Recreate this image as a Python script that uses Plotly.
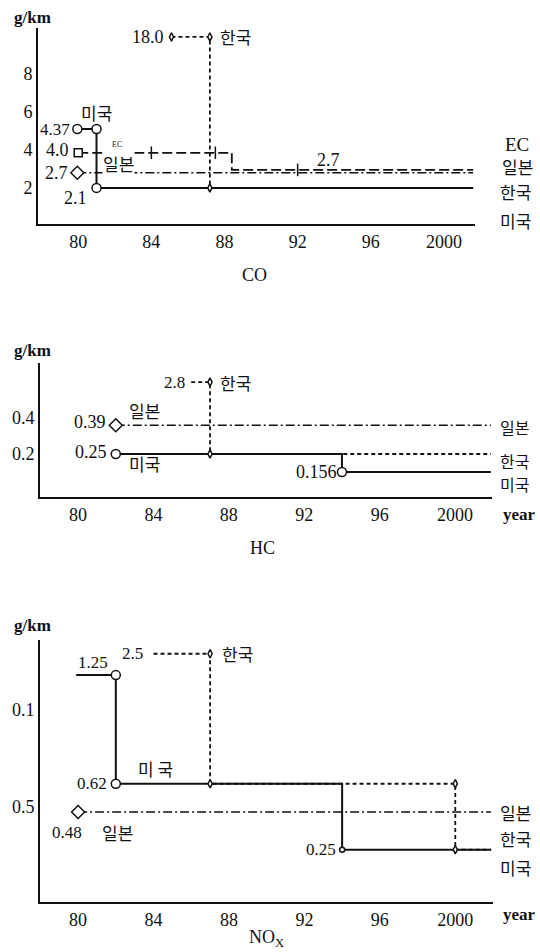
import plotly.graph_objects as go

# ================= DATA (plotted levels on each schematic axis) =================
YEARS_TICKS = [1980, 1984, 1988, 1992, 1996, 2000]
YEAR_LABELS = ["80", "84", "88", "92", "96", "2000"]

# ---- CO ----
co_us_x = [1979.95, 1981.0, 1981.0, 2001.6]
co_us_y = [5.1, 5.1, 2.0, 2.0]
co_kr_x = [1985.1, 1987.2, 1987.2, 2001.6]
co_kr_y = [9.95, 9.95, 2.0, 2.0]
co_ec_x = [1980.0, 1988.4, 1988.4, 2001.6]
co_ec_y = [3.85, 3.85, 2.95, 2.95]
co_jp_x = [1979.95, 2001.6]
co_jp_y = [2.8, 2.8]
co_ec_mark_x = [1984.0, 1987.5, 1992.0]
co_ec_mark_y = [3.85, 3.85, 2.95]
co_yticks = [2, 4, 6, 8]

# ---- HC ----
hc_us_x = [1982.0, 1994.0, 1994.0, 2001.9]
hc_us_y = [0.2, 0.2, 0.1, 0.1]
hc_kr_x = [1986.0, 1987.0, 1987.0, 2001.9]
hc_kr_y = [0.6, 0.6, 0.2, 0.2]
hc_jp_x = [1982.0, 2001.9]
hc_jp_y = [0.36, 0.36]
hc_yticks = [0.2, 0.4]
hc_yticktext = ["0.2", "0.4"]

# ---- NOx ----
nox_us_x = [1979.9, 1982.0, 1982.0, 1994.0, 1994.0, 2001.9]
nox_us_y = [1.18, 1.18, 0.62, 0.62, 0.28, 0.28]
nox_kr_x = [1984.0, 1987.0, 1987.0, 2000.0, 2000.0, 2001.9]
nox_kr_y = [1.29, 1.29, 0.62, 0.62, 0.28, 0.28]
nox_jp_x = [1980.0, 2001.9]
nox_jp_y = [0.474, 0.474]
nox_yticks = [0.5, 1.0]
nox_yticktext = ["0.5", "0.1"]

# ================= STYLE =================
INK = "#111111"
SERIF = "Liberation Serif"
KR = "Noto Sans CJK KR"
NUM = 18   # numeric label size
KRS = 17   # korean label size
DASH_KR = "4px,3px"
DASH_JP = "9px,3px,2px,3px"
DASH_EC = "10px,4px"

fig = go.Figure()


def line(x, y, dash, xa, ya, width=1.8):
    fig.add_trace(go.Scatter(x=x, y=y, mode="lines", xaxis=xa, yaxis=ya,
                             line=dict(color=INK, width=width, dash=dash),
                             hoverinfo="skip", showlegend=False))


def marks(x, y, symbol, size, xa, ya):
    fig.add_trace(go.Scatter(x=x, y=y, mode="markers", xaxis=xa, yaxis=ya,
                             marker=dict(symbol=symbol, size=size, color="white",
                                         line=dict(color=INK, width=1.5)),
                             hoverinfo="skip", showlegend=False, cliponaxis=False))


# ---- CO traces ----
line(co_jp_x, co_jp_y, DASH_JP, "x", "y", 1.6)
line(co_ec_x, co_ec_y, DASH_EC, "x", "y", 1.8)
line(co_us_x, co_us_y, "solid", "x", "y", 2.0)
line(co_kr_x, co_kr_y, DASH_KR, "x", "y", 1.8)
marks(co_us_x[:3], co_us_y[:3], "circle", 9, "x", "y")
marks(co_jp_x[:1], co_jp_y[:1], "diamond", 10, "x", "y")
marks(co_ec_x[:1], co_ec_y[:1], "square", 8, "x", "y")
marks(co_ec_mark_x, co_ec_mark_y, "line-ns", 9, "x", "y")
marks(co_kr_x[:3], co_kr_y[:3], "diamond-tall", 6, "x", "y")

# ---- HC traces ----
line(hc_jp_x, hc_jp_y, DASH_JP, "x2", "y2", 1.6)
line(hc_us_x, hc_us_y, "solid", "x2", "y2", 2.0)
line(hc_kr_x, hc_kr_y, DASH_KR, "x2", "y2", 1.8)
marks(hc_us_x[:1] + hc_us_x[2:3], hc_us_y[:1] + hc_us_y[2:3], "circle", 9, "x2", "y2")
marks(hc_jp_x[:1], hc_jp_y[:1], "diamond", 10, "x2", "y2")
marks(hc_kr_x[1:3], hc_kr_y[1:3], "diamond-tall", 6, "x2", "y2")

# ---- NOx traces ----
line(nox_jp_x, nox_jp_y, DASH_JP, "x3", "y3", 1.6)
line(nox_us_x, nox_us_y, "solid", "x3", "y3", 2.0)
line(nox_kr_x, nox_kr_y, DASH_KR, "x3", "y3", 1.8)
marks(nox_us_x[1:3], nox_us_y[1:3], "circle", 9, "x3", "y3")
marks(nox_us_x[4:5], nox_us_y[4:5], "circle", 5, "x3", "y3")
marks(nox_jp_x[:1], nox_jp_y[:1], "diamond", 10, "x3", "y3")
marks(nox_kr_x[1:5], nox_kr_y[1:5], "diamond-tall", 6, "x3", "y3")


# ================= AXES =================
def xaxis(domain, rng, anchor):
    return dict(domain=domain, range=rng, anchor=anchor, tickvals=YEARS_TICKS,
                ticktext=YEAR_LABELS, showline=True, linecolor=INK, linewidth=2,
                ticks="", showgrid=False, zeroline=False,
                tickfont=dict(family=SERIF, size=18, color=INK))


def yaxis(domain, rng, anchor, tv, tt):
    return dict(domain=domain, range=rng, anchor=anchor, tickvals=tv, ticktext=tt,
                showline=True, linecolor=INK, linewidth=2, ticks="",
                showgrid=False, zeroline=False,
                tickfont=dict(family=SERIF, size=18, color=INK))


ann = []


def txt(x, y, text, xref, yref, size=KRS, family=KR, xanchor="center",
        yanchor="middle", bg=None, xshift=0, yshift=0):
    a = dict(x=x, y=y, xref=xref, yref=yref, text=text, showarrow=False,
             xanchor=xanchor, yanchor=yanchor, xshift=xshift, yshift=yshift,
             font=dict(family=family, size=size, color=INK))
    if bg:
        a["bgcolor"] = bg
        a["borderpad"] = 0
    ann.append(a)


def px(xp, yp):
    return xp / 540, 1 - yp / 952


# ---- CO labels ----
txt(co_kr_x[0], co_kr_y[0], "18.0", "x", "y", NUM, SERIF, "right", xshift=-5)
txt(co_kr_x[1], co_kr_y[1], "한국", "x", "y", KRS, KR, "left", xshift=8)
txt(co_us_x[1], 5.95, "미국", "x", "y", KRS)
txt(co_us_x[0], co_us_y[0], "4.37", "x", "y", 17, SERIF, "right", xshift=-5)
txt(co_ec_x[0], co_ec_y[0] + 0.15, "4.0", "x", "y", NUM, SERIF, "right", xshift=-7)
txt(co_jp_x[0], co_jp_y[0], "2.7", "x", "y", NUM, SERIF, "right", xshift=-7)
txt(1982.1, 4.3, "EC", "x", "y", 8, SERIF)
txt(1982.2, 3.3, "일본", "x", "y", KRS, KR, bg="white")
txt(co_us_x[2] - 1.15, 1.45, "2.1", "x", "y", NUM, SERIF)
txt(1993.7, 3.45, "2.7", "x", "y", NUM, SERIF)
for lab, xp, yp, fam, sz in [("EC", 503, 144, SERIF, 19), ("일본", 500, 166, KR, KRS),
                             ("한국", 498, 192, KR, KRS), ("미국", 498, 220, KR, KRS)]:
    x0, y0 = px(xp, yp)
    txt(x0, y0, lab, "paper", "paper", sz, fam, "left")

# ---- HC labels ----
txt(hc_kr_x[0], hc_kr_y[0], "2.8", "x2", "y2", 17, SERIF, "right", xshift=-4)
txt(hc_kr_x[1], hc_kr_y[1], "한국", "x2", "y2", KRS, KR, "left", xshift=8)
txt(hc_jp_x[0], hc_jp_y[0] + 0.02, "0.39", "x2", "y2", NUM, SERIF, "right", xshift=-8)
txt(1983.5, 0.44, "일본", "x2", "y2", KRS)
txt(hc_us_x[0], hc_us_y[0] + 0.01, "0.25", "x2", "y2", NUM, SERIF, "right", xshift=-7)
txt(1983.5, 0.15, "미국", "x2", "y2", KRS)
txt(hc_us_x[2], hc_us_y[2], "0.156", "x2", "y2", NUM, SERIF, "right", xshift=-3)
for lab, xp, yp in [("일본", 498, 427), ("한국", 498, 461), ("미국", 498, 484)]:
    x0, y0 = px(xp, yp)
    txt(x0, y0, lab, "paper", "paper", 16, KR, "left")

# ---- NOx labels ----
txt(1980.8, 1.245, "1.25", "x3", "y3", 17, SERIF)
txt(1982.9, nox_kr_y[0], "2.5", "x3", "y3", 17, SERIF)
txt(nox_kr_x[1], nox_kr_y[1], "한국", "x3", "y3", KRS, KR, "left", xshift=10)
txt(nox_us_x[1], nox_us_y[2], "0.62", "x3", "y3", 17, SERIF, "right", xshift=-7)
txt(1984.1, 0.7, "미 국", "x3", "y3", KRS)
txt(1979.4, 0.37, "0.48", "x3", "y3", 17, SERIF)
txt(1982.1, 0.37, "일본", "x3", "y3", KRS)
txt(nox_us_x[4], nox_us_y[4], "0.25", "x3", "y3", 17, SERIF, "right", xshift=-4)
for lab, xp, yp in [("일본", 498, 812), ("한국", 498, 838), ("미국", 498, 867)]:
    x0, y0 = px(xp, yp)
    txt(x0, y0, lab, "paper", "paper", KRS, KR, "left")

# ---- units, titles, 'year' ----
for yp in [17, 350, 625]:
    x0, y0 = px(32, yp)
    txt(x0, y0, "<b>g/km</b>", "paper", "paper", 17, SERIF)
for yp in [514, 914]:
    x0, y0 = px(519, yp)
    txt(x0, y0, "<b>year</b>", "paper", "paper", 17, SERIF)
for lab, xp, yp in [("CO", 254, 275), ("HC", 262, 548), ("NO<sub>X</sub>", 266, 938)]:
    x0, y0 = px(xp, yp)
    txt(x0, y0, lab, "paper", "paper", 18, SERIF)

fig.update_layout(
    width=540, height=952, margin=dict(l=0, r=0, t=0, b=0),
    paper_bgcolor="white", plot_bgcolor="white", showlegend=False,
    xaxis=xaxis([38 / 540, 475 / 540], [1977.8, 2001.7], "y"),
    yaxis=yaxis([1 - 224 / 952, 1 - 28 / 952], [0.1, 10.42], "x", co_yticks,
                [str(v) for v in co_yticks]),
    xaxis2=xaxis([40 / 540, 492 / 540], [1977.98, 2001.96], "y2"),
    yaxis2=yaxis([1 - 497 / 952, 1 - 363 / 952], [-0.039, 0.706], "x2",
                 hc_yticks, hc_yticktext),
    xaxis3=xaxis([40 / 540, 493 / 540], [1977.98, 2002.0], "y3"),
    yaxis3=yaxis([1 - 902 / 952, 1 - 640 / 952], [0.0103, 1.361], "x3",
                 nox_yticks, nox_yticktext),
    annotations=ann,
)

fig.write_html("out.html", config={"displayModeBar": False},
               post_script="document.body.style.margin='0';document.body.style.overflow='hidden';")
